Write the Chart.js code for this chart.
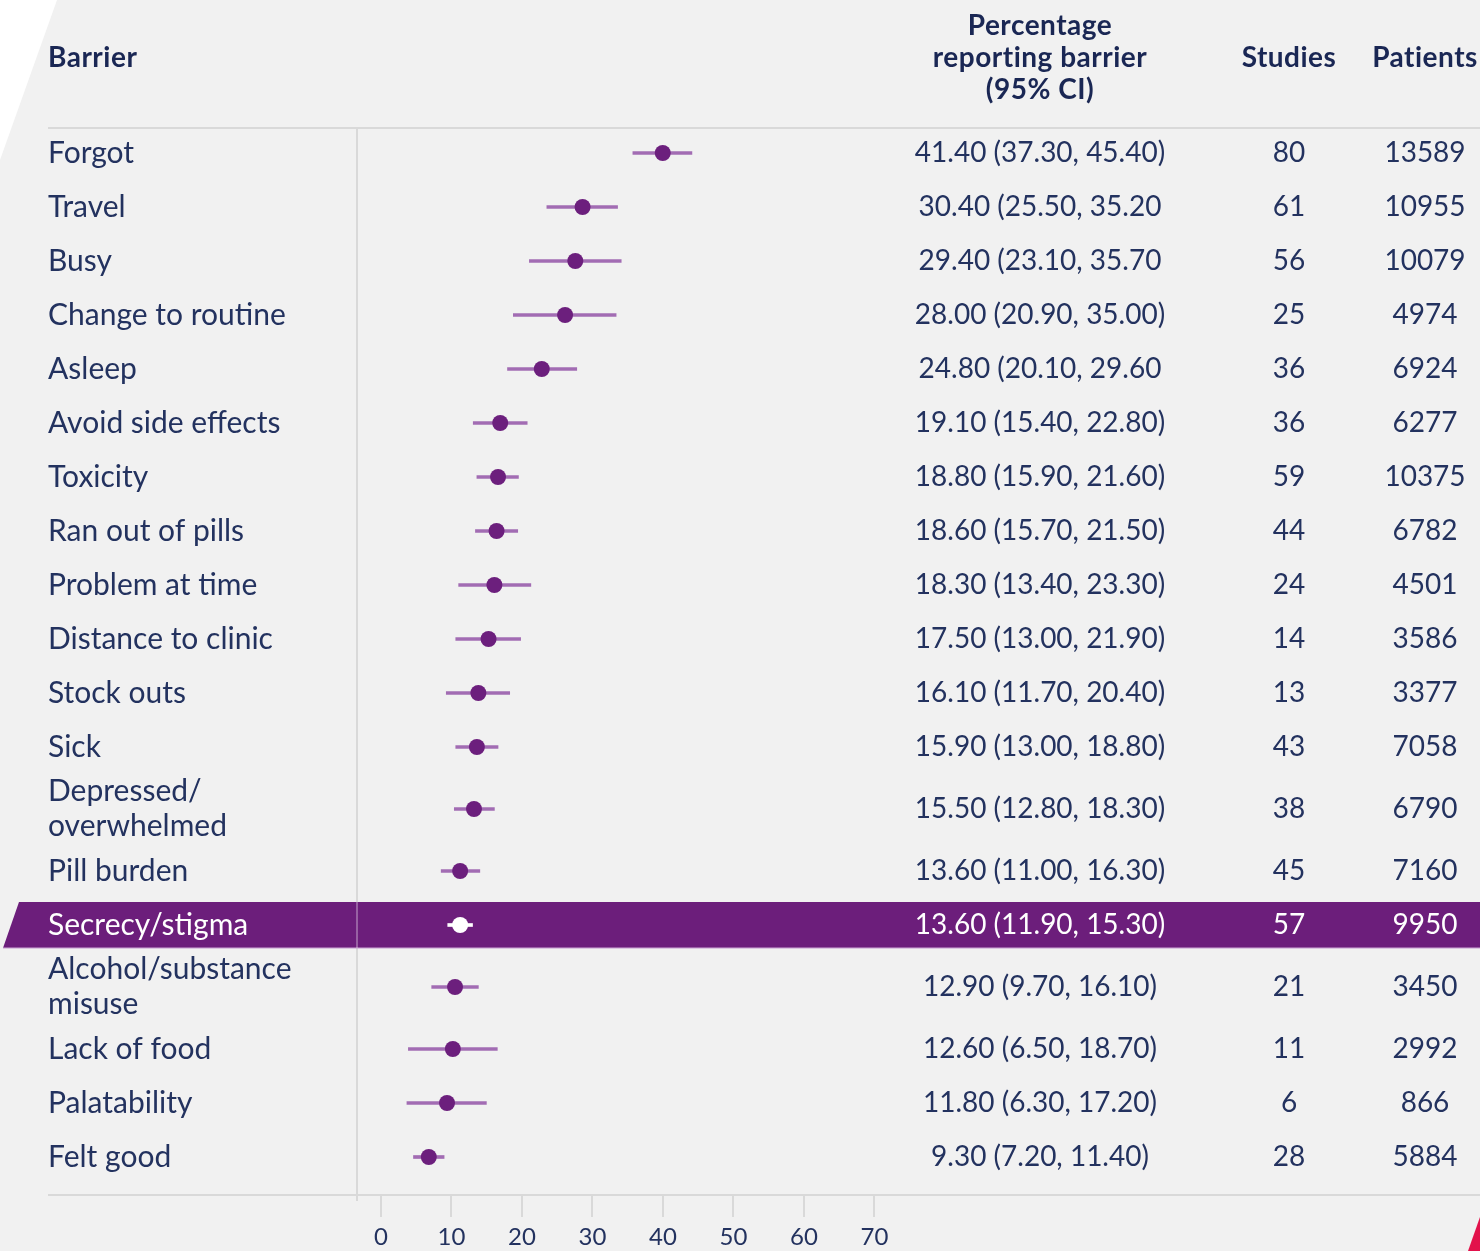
<!DOCTYPE html>
<html>
<head>
<meta charset="utf-8">
<title>Barriers to adherence</title>
<script src="https://cdn.jsdelivr.net/npm/chart.js@4.4.1/dist/chart.umd.min.js"></script>
<style>
  html, body { margin: 0; padding: 0; background: #ffffff; }
  #wrap { width: 1480px; height: 1251px; }
  canvas { display: block; }
</style>
</head>
<body>
<div id="wrap"><canvas id="forest" width="1480" height="1251"></canvas></div>
<script>
// Barriers, one entry per row (multi-line labels are split into lines)
const barriers = [
  ["Forgot"], ["Travel"], ["Busy"], ["Change to routine"], ["Asleep"],
  ["Avoid side effects"], ["Toxicity"], ["Ran out of pills"], ["Problem at time"],
  ["Distance to clinic"], ["Stock outs"], ["Sick"], ["Depressed/", "overwhelmed"],
  ["Pill burden"], ["Secrecy/stigma"], ["Alcohol/substance", "misuse"],
  ["Lack of food"], ["Palatability"], ["Felt good"]
];

// Pooled percentage reporting each barrier, with 95% CI
const estimate = [41.4, 30.4, 29.4, 28.0, 24.8, 19.1, 18.8, 18.6, 18.3, 17.5, 16.1, 15.9, 15.5, 13.6, 13.6, 12.9, 12.6, 11.8, 9.3];
const lower    = [37.3, 25.5, 23.1, 20.9, 20.1, 15.4, 15.9, 15.7, 13.4, 13.0, 11.7, 13.0, 12.8, 11.0, 11.9, 9.7, 6.5, 6.3, 7.2];
const upper    = [45.4, 35.2, 35.7, 35.0, 29.6, 22.8, 21.6, 21.5, 23.3, 21.9, 20.4, 18.8, 18.3, 16.3, 15.3, 16.1, 18.7, 17.2, 11.4];

// Text shown in the estimate column
const ciLabels = [
  "41.40 (37.30, 45.40)", "30.40 (25.50, 35.20", "29.40 (23.10, 35.70",
  "28.00 (20.90, 35.00)", "24.80 (20.10, 29.60", "19.10 (15.40, 22.80)",
  "18.80 (15.90, 21.60)", "18.60 (15.70, 21.50)", "18.30 (13.40, 23.30)",
  "17.50 (13.00, 21.90)", "16.10 (11.70, 20.40)", "15.90 (13.00, 18.80)",
  "15.50 (12.80, 18.30)", "13.60 (11.00, 16.30)", "13.60 (11.90, 15.30)",
  "12.90 (9.70, 16.10)", "12.60 (6.50, 18.70)", "11.80 (6.30, 17.20)",
  "9.30 (7.20, 11.40)"
];

const studies  = [80, 61, 56, 25, 36, 36, 59, 44, 24, 14, 13, 43, 38, 45, 57, 21, 11, 6, 28];
const patients = [13589, 10955, 10079, 4974, 6924, 6277, 10375, 6782, 4501, 3586, 3377, 7058, 6790, 7160, 9950, 3450, 2992, 866, 5884];

const highlightedBarrier = "Secrecy/stigma";
const xTickValues = [0, 10, 20, 30, 40, 50, 60, 70];

// ---- layout --------------------------------------------------------------
const W = 1480, H = 1251;
const TABLE_TOP = 128, TABLE_BOTTOM = 1195;
const PLOT_LEFT = 357, PLOT_RIGHT = 900;
const SINGLE_ROW = 54, DOUBLE_ROW = 70, FIRST_ROW_TOP = -2;
const NAVY = "#23325f";
const HEAD = "#1a2754";
const PURPLE = "#6c1f7d";
const CI_PURPLE = "#a26cb3";
const BAND = "#6c1e7b";
const RULE = "#d9d9d9";
const LABEL_FONT = "30px Lato, 'Open Sans', sans-serif";
const VALUE_FONT = "28px Lato, 'Open Sans', sans-serif";
const HEAD_FONT = "bold 28px Lato, 'Open Sans', sans-serif";

// Row centres on the vertical scale (two-line rows are taller)
const rowCentre = [];
(function () {
  let top = FIRST_ROW_TOP;
  barriers.forEach(lines => {
    const h = lines.length > 1 ? DOUBLE_ROW : SINGLE_ROW;
    rowCentre.push(top + h / 2);
    top += h;
  });
})();

const isHighlighted = barriers.map(l => l.join(" ") === highlightedBarrier);

// Background panel, highlight band, table rules and the text columns
const tablePlugin = {
  id: "forestTable",
  beforeDraw(chart) {
    const ctx = chart.ctx;
    const y = chart.scales.y;
    ctx.save();
    ctx.fillStyle = "#ffffff";
    ctx.fillRect(0, 0, W, H);
    // slanted grey panel
    ctx.fillStyle = "#f1f1f1";
    ctx.beginPath();
    ctx.moveTo(57, 0); ctx.lineTo(W, 0); ctx.lineTo(W, H); ctx.lineTo(0, H); ctx.lineTo(0, 160);
    ctx.closePath(); ctx.fill();

    // horizontal rules
    ctx.strokeStyle = RULE; ctx.lineWidth = 2;
    ctx.beginPath();
    ctx.moveTo(48, TABLE_TOP); ctx.lineTo(W, TABLE_TOP);
    ctx.moveTo(48, TABLE_BOTTOM); ctx.lineTo(W, TABLE_BOTTOM);
    ctx.stroke();
    // vertical rule
    ctx.beginPath();
    ctx.moveTo(PLOT_LEFT, TABLE_TOP); ctx.lineTo(PLOT_LEFT, TABLE_BOTTOM + 6);
    ctx.stroke();

    // highlight band
    isHighlighted.forEach((hl, i) => {
      if (!hl) return;
      const c = y.getPixelForValue(rowCentre[i]);
      const t = c - 23, b = c + 23;
      ctx.fillStyle = BAND;
      ctx.beginPath();
      ctx.moveTo(19, t); ctx.lineTo(W, t); ctx.lineTo(W, b); ctx.lineTo(3, b);
      ctx.closePath(); ctx.fill();
      ctx.strokeStyle = "rgba(200,160,210,0.7)"; ctx.lineWidth = 1.5;
      ctx.beginPath();
      ctx.moveTo(3, b); ctx.lineTo(W, b);
      ctx.stroke();
      ctx.strokeStyle = "rgba(255,255,255,0.3)"; ctx.lineWidth = 2;
      ctx.beginPath();
      ctx.moveTo(PLOT_LEFT, t); ctx.lineTo(PLOT_LEFT, b);
      ctx.stroke();
    });

    // corner accent
    ctx.fillStyle = "#e2124b";
    ctx.beginPath();
    ctx.moveTo(W, 1217); ctx.lineTo(W, H); ctx.lineTo(1468, H);
    ctx.closePath(); ctx.fill();
    ctx.restore();
  },
  afterDraw(chart) {
    const ctx = chart.ctx;
    const y = chart.scales.y;
    ctx.save();
    // headers
    ctx.fillStyle = HEAD;
    ctx.font = HEAD_FONT;
    ctx.letterSpacing = "0.5px";
    ctx.textBaseline = "middle";
    ctx.textAlign = "left";
    ctx.fillText("Barrier", 48, 58);
    ctx.textAlign = "center";
    ctx.fillText("Percentage", 1040, 26);
    ctx.fillText("reporting barrier", 1040, 58);
    ctx.fillText("(95% CI)", 1040, 90);
    ctx.fillText("Studies", 1289, 58);
    ctx.fillText("Patients", 1425, 58);
    ctx.letterSpacing = "0px";

    // rows
    barriers.forEach((lines, i) => {
      const c = y.getPixelForValue(rowCentre[i]);
      ctx.fillStyle = isHighlighted[i] ? "#ffffff" : NAVY;
      ctx.font = LABEL_FONT;
      ctx.textAlign = "left";
      lines.forEach((ln, k) => {
        const dy = (k - (lines.length - 1) / 2) * 35;
        ctx.fillText(ln, 48, c + dy);
      });
      ctx.font = VALUE_FONT;
      ctx.textAlign = "center";
      ctx.fillText(ciLabels[i], 1040, c);
      ctx.fillText(String(studies[i]), 1289, c);
      ctx.fillText(String(patients[i]), 1425, c);
    });
    ctx.restore();
  }
};

const ciData = barriers.map((_, i) => ({ x: [lower[i], upper[i]], y: rowCentre[i] }));
const pointData = barriers.map((_, i) => ({ x: estimate[i], y: rowCentre[i] }));

new Chart(document.getElementById("forest"), {
  type: "bar",
  data: {
    datasets: [
      {
        type: "scatter",
        label: "Estimate",
        data: pointData,
        xAxisID: "x",
        yAxisID: "y",
        pointRadius: 8,
        pointBorderWidth: 0,
        pointBackgroundColor: isHighlighted.map(h => h ? "#ffffff" : PURPLE),
        showLine: false,
        order: 0
      },
      {
        type: "bar",
        label: "95% CI",
        indexAxis: "y",
        data: ciData,
        xAxisID: "x",
        yAxisID: "y",
        barThickness: 3,
        borderWidth: 0,
        backgroundColor: isHighlighted.map(h => h ? "#ffffff" : CI_PURPLE),
        order: 1
      }
    ]
  },
  options: {
    indexAxis: "y",
    responsive: false,
    animation: false,
    events: [],
    layout: { padding: { top: TABLE_TOP, left: PLOT_LEFT, right: W - PLOT_RIGHT, bottom: 0 } },
    plugins: { legend: { display: false }, tooltip: { enabled: false } },
    scales: {
      x: {
        type: "linear",
        display: false,
        offset: false,
        min: -0.55,
        max: 73.95
      },
      x2: {
        type: "linear",
        position: "bottom",
        offset: false,
        min: -3.40,
        max: 73.62,
        afterBuildTicks: s => { s.ticks = xTickValues.map(v => ({ value: v })); },
        afterFit: s => { s.height = H - TABLE_BOTTOM; },
        border: { display: false },
        grid: { offset: false, drawOnChartArea: false, drawTicks: true, tickLength: 22, color: RULE, lineWidth: 2 },
        ticks: {
          padding: 6,
          maxRotation: 0,
          autoSkip: false,
          color: NAVY,
          font: { family: "Lato, 'Open Sans', sans-serif", size: 24 }
        }
      },
      y: {
        type: "linear",
        display: false,
        reverse: true,
        offset: false,
        grid: { offset: false },
        min: 0,
        max: TABLE_BOTTOM - TABLE_TOP
      }
    }
  },
  plugins: [tablePlugin]
});
</script>
</body>
</html>
